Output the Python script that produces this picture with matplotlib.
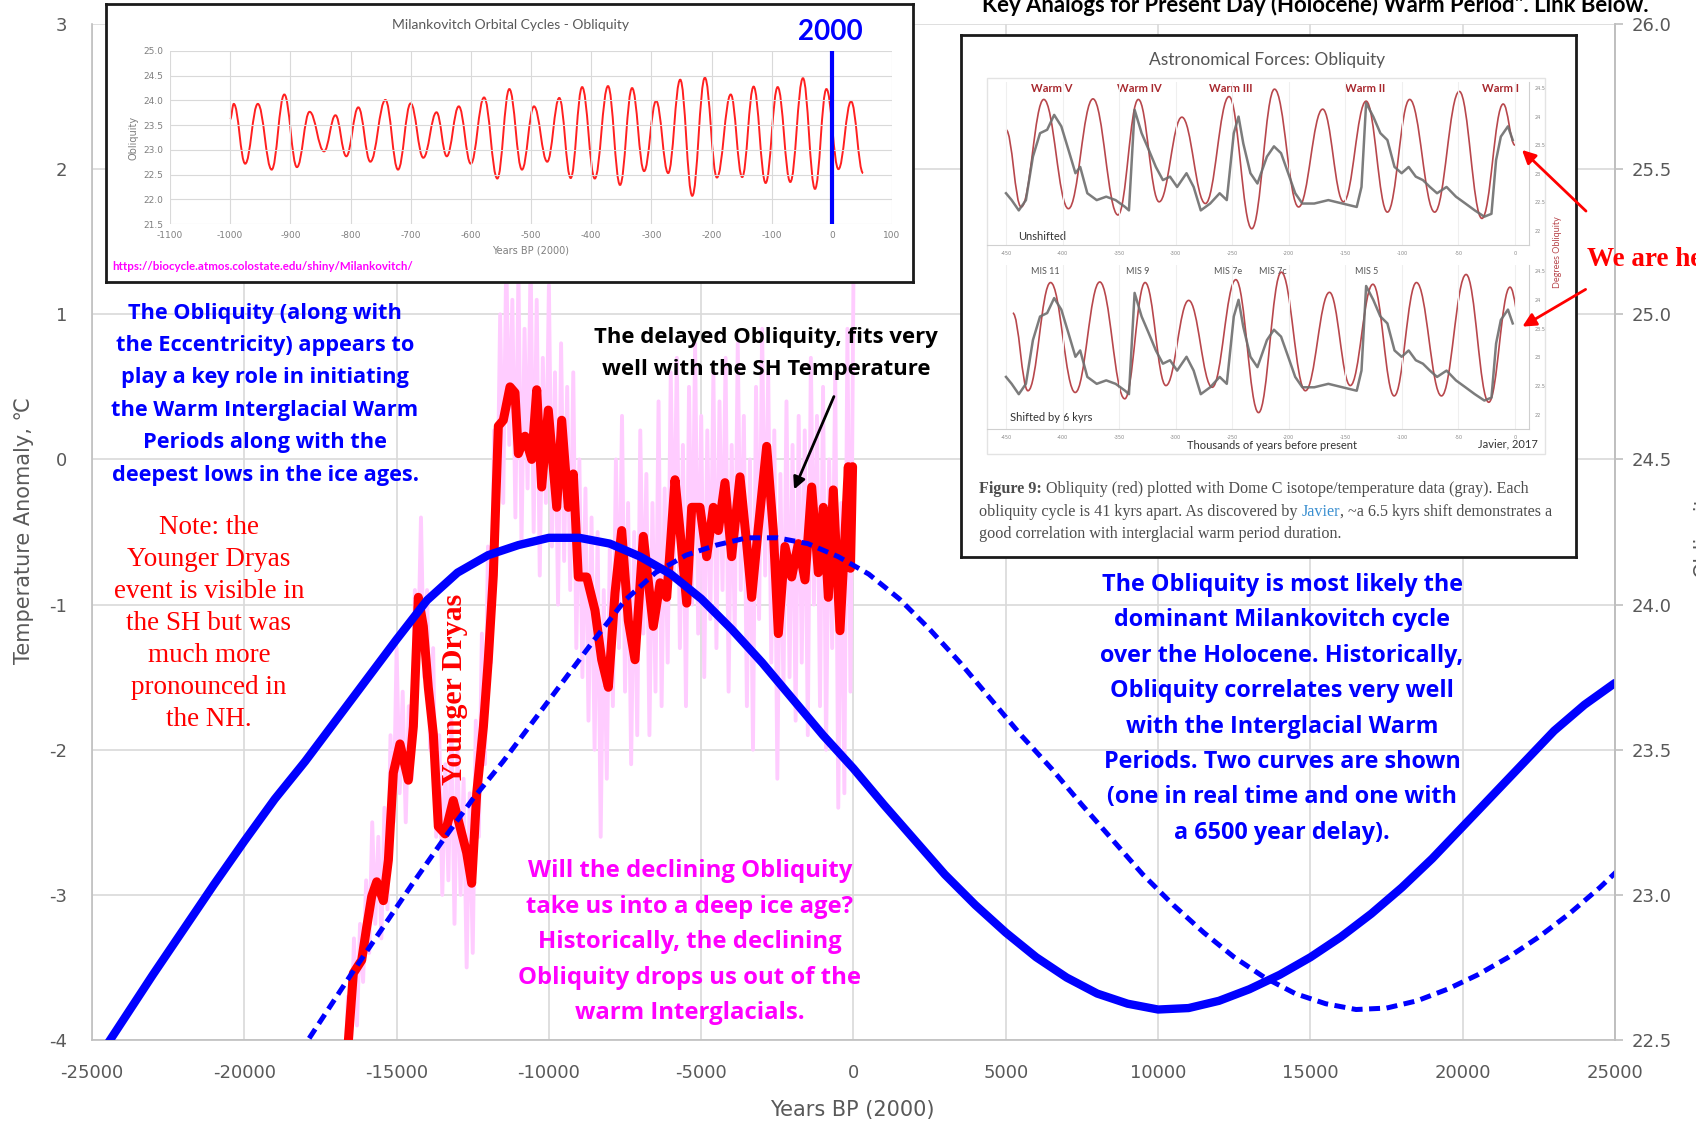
import matplotlib
matplotlib.use('Agg')
import matplotlib.pyplot as plt
import numpy as np
from matplotlib.path import Path
from matplotlib.patches import PathPatch, Rectangle

plt.rcParams['axes.unicode_minus'] = False

W, H = 1696, 1125

# ---- main chart data ----
# obliquity (deg), real time, every 1000 years (Years BP 2000)
obl_years = list(range(-25000, 25001, 1000))
obl_deg = [22.405, 22.565, 22.725, 22.88, 23.035, 23.185, 23.33, 23.46, 23.60, 23.74,
           23.88, 24.015, 24.11, 24.17, 24.205, 24.23, 24.23, 24.21, 24.165, 24.105,
           24.02, 23.915, 23.80, 23.675, 23.55, 23.435, 23.31, 23.19, 23.07, 22.965,
           22.87, 22.785, 22.715, 22.66, 22.625, 22.605, 22.61, 22.635, 22.675, 22.725,
           22.785, 22.855, 22.935, 23.025, 23.125, 23.235, 23.345, 23.455, 23.565, 23.655,
           23.73]
DELAY = 6500

# SH temperature anomaly (smoothed, thick red)
red_years = [-16585, -16420, -16146, -15980, -15817, -15653, -15435, -15270, -15108, -14890,
             -14615, -14450, -14287, -14123, -13960, -13795, -13630, -13411, -13140, -12920,
             -12700, -12535, -12370, -12150, -11990, -11825, -11660, -11497, -11277, -11113,
             -11003, -10784, -10565, -10400, -10237, -10020, -9743, -9580, -9362, -9198,
             -9035, -8760, -8487, -8267, -8048, -7830, -7610, -7393, -7174, -6900,
             -6573, -6350, -6132, -5860, -5696, -5476, -5312, -5040, -4820, -4602,
             -4438, -4220, -4000, -3726, -3507, -3343, -3124, -2850, -2633, -2468,
             -2250, -2030, -1812, -1593, -1373, -1155, -990, -826, -663, -444,
             -280, -170, -100, -30]
red_temp = [-4.01, -3.54, -3.45, -3.22, -3.01, -2.91, -3.04, -2.76, -2.16, -1.96,
            -2.21, -1.84, -0.95, -1.15, -1.57, -1.89, -2.53, -2.58, -2.35, -2.53,
            -2.71, -2.92, -2.30, -1.84, -1.38, -0.80, 0.23, 0.27, 0.50, 0.46,
            0.04, 0.16, 0.00, 0.48, -0.19, 0.34, -0.33, 0.27, -0.33, -0.10,
            -0.81, -0.81, -1.04, -1.38, -1.57, -0.92, -0.49, -1.11, -1.38, -0.53,
            -1.15, -0.85, -0.95, -0.14, -0.49, -0.99, -0.33, -0.33, -0.67, -0.33,
            -0.49, -0.16, -0.67, -0.12, -0.58, -0.95, -0.47, 0.09, -0.49, -1.20,
            -0.60, -0.81, -0.58, -0.83, -0.19, -0.78, -0.33, -0.95, -0.21, -1.18,
            -0.53, -0.05, -0.75, -0.05]

# raw temperature (pink), every 100 years starting -16700
pink_start = -16700
pink_temp = [-4.3, -3.7, -4.1, -3.3, -3.9, -3.2, -3.6, -2.9, -3.4, -2.5,
             -3.2, -2.6, -3.3, -2.4, -3.1, -1.9, -2.5, -1.3, -2.3, -1.6,
             -2.5, -1.7, -2.2, -0.9, -1.4, -0.4, -1.5, -0.9, -2.0, -1.3,
             -2.6, -1.9, -3.0, -2.1, -2.9, -1.8, -3.2, -2.0, -3.0, -2.2,
             -3.5, -2.3, -3.4, -1.8, -2.6, -1.2, -2.1, -0.6, -1.4, 0.2,
             -0.5, 1.0, -0.3, 1.4, 0.1, 1.1, -0.4, 1.3, -0.6, 0.9,
             -0.2, 1.4, -0.5, 1.1, -0.8, 0.7, -0.3, 1.2, -0.6, 0.6,
             -1.0, 0.8, -0.7, 0.5, -0.9, 0.6, -1.3, 0.0, -1.5, -0.2,
             -1.8, -0.4, -2.0, -0.5, -2.6, -0.9, -2.2, -0.6, -1.7, 0.0,
             -1.3, 0.3, -1.6, -0.3, -2.1, -0.5, -1.9, 0.2, -1.2, -0.1,
             -1.9, -0.3, -1.6, 0.4, -1.7, -0.2, -1.4, 0.6, -0.8, 0.7,
             -1.3, 0.1, -1.7, 0.5, -1.0, 0.8, -1.2, 0.3, -1.5, 0.2,
             -1.1, 0.6, -1.3, 0.4, -0.9, 0.7, -1.6, 0.1, -1.2, 0.8,
             -0.9, 0.3, -1.7, 0.0, -2.0, 0.5, -1.1, 0.9, -0.8, 0.6,
             -1.4, 0.2, -2.2, -0.1, -1.6, 0.4, -1.5, 0.1, -1.8, 0.3,
             -1.4, 0.2, -1.9, 0.7, -1.0, 0.3, -1.7, 0.5, -2.0, 0.0,
             -1.3, 0.6, -2.4, -0.3, -2.3, 0.9, -1.6, 1.3]
pink_years = np.arange(len(pink_temp)) * 100 + pink_start

xticks = list(range(-25000, 25001, 5000))
yticks_left = list(range(-4, 4))
yticks_right = [22.5, 23.0, 23.5, 24.0, 24.5, 25.0, 25.5, 26.0]

# ---- left inset: obliquity over the last million years ----
ins_kyr = [-1000, -994, -975, -954, -931, -910, -889, -868, -844, -825, -807, -787, -767,
           -742, -721, -700, -679, -657, -640, -620, -600, -578, -556, -536, -515, -495,
           -473, -453, -434, -415, -394, -372, -352, -332, -312, -292, -272, -252, -232,
           -211, -191, -168, -149, -130, -110, -90, -69, -48, -28, -9, 11, 32, 52]
ins_obl = [23.62, 23.93, 22.72, 23.93, 22.60, 24.12, 22.65, 23.77, 22.97, 23.70, 22.87,
           23.86, 22.76, 24.01, 22.60, 23.94, 22.84, 23.76, 22.87, 23.88, 22.72, 24.06,
           22.42, 24.23, 22.60, 23.88, 22.76, 24.05, 22.43, 24.27, 22.42, 24.29, 22.29,
           24.25, 22.57, 23.99, 22.53, 24.42, 22.07, 24.46, 22.44, 24.12, 22.45, 24.28,
           22.33, 24.27, 22.35, 24.45, 22.21, 24.23, 22.61, 23.98, 22.53]

# ---- right inset: Javier 2017 figure ----
jv_kyr = [-450, -436.6, -416.6, -394.8, -373.1, -351.0, -333.0, -314.6, -294.5, -273.7,
          -252.8, -232.7, -212.6, -191.3, -170.0, -151.6, -131.6, -112.8, -93.1, -71.0,
          -49.2, -29.2, -10.4, 0]
jv_obl = [23.77, 22.42, 24.30, 22.39, 24.31, 22.28, 24.30, 22.51, 23.99, 22.48,
          24.35, 22.04, 24.48, 22.42, 24.13, 22.51, 24.27, 22.33, 24.30, 22.33,
          24.44, 22.22, 24.22, 23.50]
domec_kyr = [-450, -445, -438.7, -432.4, -426.2, -419.9, -413.6, -407.4, -401.1, -394.8,
             -388.6, -384.4, -378.1, -369.8, -361.4, -353.1, -344.7, -341.3, -336.3, -330.1,
             -323.8, -317.5, -311.3, -305.0, -298.7, -290.4, -284.1, -277.8, -269.5, -261.1,
             -254.8, -248.6, -244.4, -240.2, -233.9, -227.7, -219.3, -213.1, -206.8, -200.5,
             -194.3, -188.0, -177.5, -165.0, -152.5, -139.9, -135.7, -131.6, -125.3, -119.0,
             -112.8, -106.5, -100.2, -94.0, -87.7, -81.4, -75.2, -68.9, -60.5, -52.2,
             -43.8, -35.5, -27.1, -20.8, -16.7, -12.5, -6.2, -2.0]
domec_val = [22.66, 22.54, 22.36, 22.54, 23.30, 23.71, 23.77, 24.03, 23.83, 23.42,
             23.01, 23.12, 22.66, 22.54, 22.60, 22.54, 22.42, 22.36, 24.12, 23.71,
             23.42, 23.12, 22.89, 22.95, 22.77, 23.01, 22.77, 22.36, 22.48, 22.66,
             22.54, 23.71, 24.00, 23.53, 23.01, 22.83, 23.30, 23.48, 23.36, 23.01,
             22.66, 22.48, 22.48, 22.54, 22.48, 22.42, 22.77, 24.24, 24.00, 23.71,
             23.59, 23.12, 23.01, 23.12, 22.95, 22.89, 22.77, 22.66, 22.77, 22.60,
             22.48, 22.36, 22.25, 22.30, 23.24, 23.65, 23.83, 23.59]
jv_shift = 6
warm_labels = ['Warm V', 'Warm IV', 'Warm III', 'Warm II', 'Warm I']
warm_x = [1052, 1139, 1231, 1365, 1500]
mis_labels = ['MIS 11', 'MIS 9', 'MIS 7e', 'MIS 7c', 'MIS 5']
mis_x = [1045, 1138, 1228, 1273, 1367]

GRID = '#D9D9D9'
TICK = '#595959'

fig = plt.figure(figsize=(W / 100, H / 100), dpi=100)


def px_axes(x0, y0, x1, y1):
    return fig.add_axes([x0 / W, 1 - y1 / H, (x1 - x0) / W, (y1 - y0) / H])


def smooth_line(ax, xs, ys, **kw):
    verts = [(xs[0], ys[0])]
    codes = [Path.MOVETO]
    for i in range(1, len(xs)):
        dx = xs[i] - xs[i - 1]
        verts += [(xs[i - 1] + 0.4 * dx, ys[i - 1]), (xs[i] - 0.4 * dx, ys[i]), (xs[i], ys[i])]
        codes += [Path.CURVE4] * 3
    p = PathPatch(Path(verts, codes), fill=False, **kw)
    ax.add_patch(p)
    return p


# ---- main axes ----
ax = px_axes(92, 24, 1615, 1040)
ax.set_xlim(-25000, 25000)
ax.set_ylim(-4, 3)
ax.set_xticks(xticks)
ax.set_yticks(yticks_left)
ax.grid(True, color=GRID, lw=1.2)
ax.set_axisbelow(True)
ax.spines['top'].set_visible(False)
for s in ['left', 'bottom', 'right']:
    ax.spines[s].set_color('#BFBFBF')
    ax.spines[s].set_linewidth(1.2)
ax.tick_params(axis='x', length=0, labelsize=13, labelcolor=TICK, pad=17)
ax.tick_params(axis='y', length=0, labelsize=13, labelcolor=TICK, pad=18)

ax.plot(pink_years, pink_temp, color='#FFCCFF', lw=2.8, zorder=2)
ax.plot(red_years, red_temp, color='#FF0000', lw=6.5, zorder=3,
        solid_joinstyle='round', solid_capstyle='round')

ax2 = ax.twinx()
ax2.set_ylim(22.5, 26.0)
ax2.set_yticks(yticks_right)
ax2.set_yticklabels(['%.1f' % v for v in yticks_right])
for s in ['left', 'bottom', 'top']:
    ax2.spines[s].set_visible(False)
ax2.spines['right'].set_color('#BFBFBF')
ax2.spines['right'].set_linewidth(1.2)
ax2.tick_params(axis='y', direction='out', length=6, width=1.2, color='#BFBFBF',
                labelsize=13, labelcolor=TICK, pad=6)
ax2.plot(obl_years, obl_deg, color='#0000FF', lw=6, solid_capstyle='round')
ax2.plot(np.array(obl_years) + DELAY, obl_deg, color='#0000FF', lw=3.6,
         linestyle=(0, (2.2, 1.3)))

# ---- left inset ----
box1 = px_axes(106, 4, 913, 282)
box1.set_xticks([])
box1.set_yticks([])
for s in box1.spines.values():
    s.set_linewidth(2)
    s.set_color('#1a1a1a')

in1 = px_axes(170, 51, 892, 224)
in1.set_facecolor('none')
in1.set_xlim(-1100, 100)
in1.set_ylim(21.5, 25.0)
in1.set_xticks(range(-1100, 101, 100))
in1.set_yticks(np.arange(21.5, 25.01, 0.5))
in1.set_yticklabels(['%.1f' % v for v in np.arange(21.5, 25.01, 0.5)])
in1.grid(True, color=GRID, lw=0.8)
for s in in1.spines.values():
    s.set_visible(False)
in1.tick_params(length=0, labelsize=6.5, labelcolor='#7f7f7f', pad=5)
smooth_line(in1, ins_kyr, ins_obl, ec='#FF2020', lw=1.4)
in1.axvline(0, color='#0000FF', lw=3)
in1.set_xlabel('Years BP (2000)', fontsize=7, color='#7f7f7f', labelpad=4)
in1.set_ylabel('Obliquity', fontsize=7, color='#7f7f7f', labelpad=3)

# ---- right inset ----
box2 = px_axes(961, 35, 1576, 557)
box2.set_xlim(961, 1576)
box2.set_ylim(557, 35)
box2.set_xticks([])
box2.set_yticks([])
for s in box2.spines.values():
    s.set_linewidth(2)
    s.set_color('#1a1a1a')
box2.add_patch(Rectangle((987, 78), 558, 376, fill=False, ec='#E3E3E3', lw=1))
box2.text(1267, 60, 'Astronomical Forces: Obliquity', ha='center', va='center',
          fontsize=12.5, color='#555555', family='Lato')

panels = []
for (y0, y1) in [(82, 245), (265, 429)]:
    p = px_axes(987, y0, 1529, y1)
    p.set_facecolor('none')
    p.set_xlim(-466.8, 12.4)
    p.set_ylim(21.755, 24.605)
    p.set_xticks(range(-450, 1, 50))
    p.set_yticks([22, 22.5, 23, 23.5, 24, 24.5])
    p.set_yticklabels(['22', '22.5', '23', '23.5', '24', '24.5'])
    p.yaxis.tick_right()
    p.grid(True, axis='x', color='#EFEFEF', lw=0.8)
    for s in ['top', 'left']:
        p.spines[s].set_visible(False)
    for s in ['bottom', 'right']:
        p.spines[s].set_color('#D0D0D0')
    p.tick_params(length=0, labelsize=3.5, labelcolor='#888888', pad=4)
    p.plot(domec_kyr, domec_val, color='#6E6E6E', lw=1.8, alpha=0.9)
    panels.append(p)

smooth_line(panels[0], jv_kyr, jv_obl, ec='#B8474C', lw=1.2)
pp = smooth_line(panels[1], [k + jv_shift for k in jv_kyr], jv_obl, ec='#B8474C', lw=1.2)
pp.set_clip_path(Rectangle((-470, 21), 470, 4, transform=panels[1].transData))

for lab, x in zip(warm_labels, warm_x):
    box2.text(x, 89, lab, ha='center', va='center', fontsize=8, color='#A8282E',
              family='Lato', weight='bold')
for lab, x in zip(mis_labels, mis_x):
    box2.text(x, 272, lab, ha='center', va='center', fontsize=6.5, color='#555555',
              family='Lato')
box2.text(1018, 236, 'Unshifted', ha='left', va='center', fontsize=8, color='#333333', family='Lato')
box2.text(1010, 418, 'Shifted by 6 kyrs', ha='left', va='center', fontsize=8, color='#333333',
          family='Lato')
box2.text(1272, 446, 'Thousands of years before present', ha='center', va='center', fontsize=8,
          color='#333333', family='Lato')
box2.text(1508, 444, 'Javier, 2017', ha='center', va='center', fontsize=8, color='#333333',
          family='Lato')
box2.text(1557, 252, 'Degrees Obliquity', ha='center', va='center', rotation=90, fontsize=6.5,
          color='#B8474C', family='Lato')

renderer = fig.canvas.get_renderer()


def chain(axes, x, y, parts):
    for s, kw in parts:
        t = axes.text(x, y, s, ha='left', va='center', **kw)
        bb = t.get_window_extent(renderer=renderer)
        x = axes.transData.inverted().transform((bb.x1, bb.y0))[0]


cap = dict(fontsize=11.6, color='#4d4d4d', family='Liberation Serif')
chain(box2, 979, 489, [('Figure 9:', dict(cap, weight='bold')),
                       (' Obliquity (red) plotted with Dome C isotope/temperature data (gray). Each', cap)])
chain(box2, 979, 512, [('obliquity cycle is 41 kyrs apart. As discovered by ', cap),
                       ('Javier', dict(cap, color='#3A8FD0')),
                       (', ~a 6.5 kyrs shift demonstrates a', cap)])
chain(box2, 979, 534, [('good correlation with interglacial warm period duration.', cap)])

# ---- overlay for figure texts and arrows ----
ov = fig.add_axes([0, 0, 1, 1])
ov.set_xlim(0, W)
ov.set_ylim(H, 0)
ov.axis('off')


def lines(x, y0, dy, txt, **kw):
    for i, s in enumerate(txt):
        ov.text(x, y0 + i * dy, s, ha='center', va='center', **kw)


bold_sans = dict(family='Open Sans', weight='bold')
lines(265, 313, 32.4, ['The Obliquity (along with', 'the Eccentricity) appears to',
                       'play a key role in initiating', 'the Warm Interglacial Warm',
                       'Periods along with the', 'deepest lows in the ice ages.'],
      fontsize=15.7, color='#0000FF', **bold_sans)
lines(766, 337, 32.5, ['The delayed Obliquity, fits very', 'well with the SH Temperature'],
      fontsize=15.9, color='black', **bold_sans)
lines(209, 528, 32, ['Note: the', 'Younger Dryas', 'event is visible in', 'the SH but was',
                     'much more', 'pronounced in', 'the NH.'],
      fontsize=19.5, color='#FF0000', family='Liberation Serif')
lines(690, 871, 35.6, ['Will the declining Obliquity', 'take us into a deep ice age?',
                       'Historically, the declining', 'Obliquity drops us out of the',
                       'warm Interglacials.'],
      fontsize=17.2, color='#FF00FF', **bold_sans)
lines(1282, 585, 35.4, ['The Obliquity is most likely the', 'dominant Milankovitch cycle',
                        'over the Holocene. Historically,', 'Obliquity correlates very well',
                        'with the Interglacial Warm', 'Periods. Two curves are shown',
                        '(one in real time and one with', 'a 6500 year delay).'],
      fontsize=16.8, color='#0000FF', **bold_sans)
ov.text(454, 689, 'Younger Dryas', rotation=90, ha='center', va='center', fontsize=21.5,
        color='#FF0000', family='Liberation Serif', weight='bold')

ov.annotate('', xy=(793, 492), xytext=(835, 394),
            arrowprops=dict(arrowstyle='-|>', color='black', lw=2, mutation_scale=18))
ov.annotate('', xy=(1520, 148), xytext=(1588, 213),
            arrowprops=dict(arrowstyle='-|>', color='#FF0000', lw=2, mutation_scale=20))
ov.annotate('', xy=(1520, 328), xytext=(1588, 288),
            arrowprops=dict(arrowstyle='-|>', color='#FF0000', lw=2, mutation_scale=20))
ov.text(1587, 260, 'We are here', ha='left', va='center', fontsize=19.5, color='#FF0000',
        family='Liberation Serif', weight='bold')

ov.text(982, 12, 'Key Analogs for Present Day (Holocene) Warm Period". Link Below.',
        ha='left', va='baseline', fontsize=15.9, color='black', family='Lato', weight='bold')
ov.text(24, 530, 'Temperature Anomaly, ℃', rotation=90, ha='center', va='center',
        fontsize=15, color=TICK)
ov.text(852, 1110, 'Years BP (2000)', ha='center', va='center', fontsize=15, color=TICK)
ov.text(1703, 530, 'Obliquity', rotation=90, ha='center', va='center', fontsize=15, color=TICK)

# inset 1 texts
ov.text(510, 25, 'Milankovitch Orbital Cycles - Obliquity', ha='center', va='center',
        fontsize=10, color='#595959', family='Lato')
ov.text(830, 32, '2000', ha='center', va='center', fontsize=20, color='#0000FF',
        family='Lato', weight='bold')
ov.text(112, 267, 'https://biocycle.atmos.colostate.edu/shiny/Milankovitch/', ha='left',
        va='center', fontsize=8.3, color='#FF00FF', family='Lato', weight='bold')

fig.savefig('out.png', dpi=100)
